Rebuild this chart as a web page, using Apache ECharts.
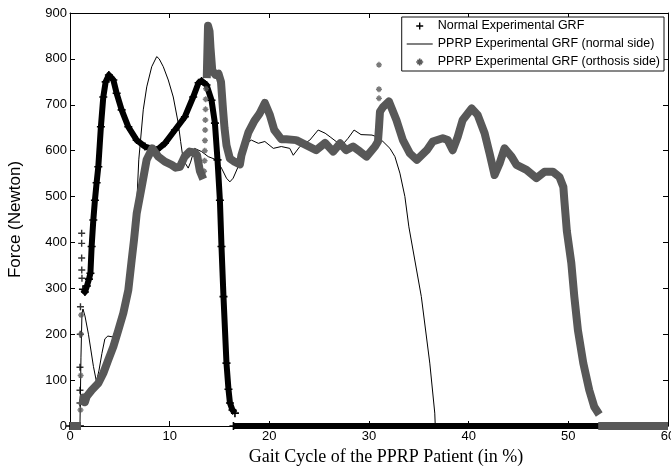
<!DOCTYPE html>
<html><head><meta charset="utf-8">
<script src="https://cdn.jsdelivr.net/npm/echarts@6/dist/echarts.min.js"></script>
<style>html,body{margin:0;padding:0;background:#fff}#c{width:671px;height:467px}</style>
</head><body><div id="c"></div>
<script>
// ---- data ----
const xTicks = [0, 10, 20, 30, 40, 50, 60];
const yTicks = [0, 100, 200, 300, 400, 500, 600, 700, 800, 900];
const seriesNames = [
  'Normal Experimental GRF',
  'PPRP Experimental GRF (normal side)',
  'PPRP Experimental GRF (orthosis side)'
];
const xTitle = 'Gait Cycle of the PPRP Patient (in %)';
const yTitle = 'Force (Newton)';

// Normal Experimental GRF ([gait %, force]); null marks a gap
const normalGRF = [
  [0,0],[1.0,0],[1.0,null],
  [1.3,298],[1.5,292],[1.7,305],[1.9,320],[2.05,333],[2.17,391],[2.34,449],[2.5,492],[2.67,530],
  [2.84,565],[3.1,652],[3.34,717],[3.58,750],[3.9,765],[4.35,754],[4.68,725],[5.18,689],
  [5.85,652],[6.69,623],[7.52,609],[8.69,601],[9.52,616],[10.53,645],[11.53,674],[12.36,717],
  [12.9,748],[13.2,752],[13.7,743],[14.2,710],[14.54,660],[14.8,580],[15.04,492],[15.2,391],
  [15.4,282],[15.7,137],[15.9,80],[16.05,50],[16.3,35],[16.55,28],[16.55,null],
  [16.4,0],[53.2,0]
];
const normalGRFSparse = [
  [1.0,50],[1.0,78],[1.0,128],[1.03,200],[1.05,260],
  [1.17,420],[1.17,398],[1.17,366],[1.18,340],[1.2,322]
];
// PPRP Experimental GRF (normal side)
const normalSide = [
  [0,0],[1.0,0],[1.1,150],[1.2,245],[1.3,255],[1.5,240],[1.85,200],[2.35,130],[2.65,97],
  [2.9,120],[3.2,158],[3.5,190],[3.8,196],[4.3,194],[4.85,224],[5.5,267],[6.2,335],[6.4,400],
  [6.7,485],[6.9,580],[7.35,689],[7.7,739],[8.2,783],[8.7,805],[8.95,800],[9.36,783],
  [9.86,754],[10.36,717],[10.86,660],[11.1,620],[11.36,580],[11.86,562],[12.1,575],[12.5,605],
  [13.2,598],[13.87,587],[14.7,580],[15.2,562],[15.7,540],[16.04,532],[16.37,540],[16.87,565],
  [17.2,594],[17.7,616],[18.2,623],[18.9,616],[19.55,620],[20.4,605],[21.2,609],[22.05,605],
  [22.4,590],[23.06,609],[24.06,623],[24.9,645],[25.6,638],[26.1,630],[26.7,620],[27.3,612],
  [27.9,627],[28.5,645],[29.2,635],[30.3,634],[30.8,630],[31.4,620],[32.1,605],[32.6,587],
  [33.1,551],[33.6,500],[34.0,434],[35.25,282],[36.1,137],[36.6,28],[36.65,0],[53,0]
];
// PPRP Experimental GRF (orthosis side)
const orthosisSide = [
  [0,0],[1.1,0],[1.1,null],
  [1.25,45],[1.35,62],[1.5,52],[1.67,64],[2.17,78],[2.84,93],[3.34,115],[3.84,144],[4.35,173],
  [4.85,209],[5.35,246],[5.85,296],[6.19,362],[6.42,405],[6.69,463],[7.19,521],[7.69,580],
  [8.26,605],[8.86,587],[9.52,576],[10.2,569],[10.6,563],[11.03,565],[11.5,587],[12.0,598],
  [12.5,596],[12.75,590],[13.03,556],[13.37,538],[13.37,null],
  [13.72,758],[13.85,872],[14.0,860],[14.1,823],[14.27,775],[14.6,765],[14.9,768],[15.15,750],
  [15.35,690],[15.5,650],[15.7,612],[16.04,583],[16.5,576],[17.05,570],[17.2,590],[17.9,640],
  [18.5,665],[19.0,680],[19.55,704],[20.05,678],[20.5,645],[21.2,625],[21.7,625],[22.7,623],
  [23.7,612],[24.7,601],[25.6,617],[26.4,598],[27.1,616],[27.7,601],[28.4,609],[29.1,598],
  [29.75,587],[30.6,609],[30.9,620],[31.0,650],[31.1,685],[31.4,695],[32.0,707],[32.75,667],
  [33.4,623],[34.1,594],[34.8,580],[35.8,601],[36.4,620],[37.4,627],[37.9,623],[38.4,601],
  [38.9,630],[39.4,667],[40.3,692],[40.9,678],[41.6,638],[42.1,594],[42.6,547],[43.1,572],
  [43.6,605],[44.3,587],[44.8,569],[45.8,558],[46.8,540],[47.6,554],[48.45,554],[49.1,543],
  [49.5,521],[49.6,492],[49.85,425],[50.3,355],[50.6,282],[50.96,209],[51.5,137],[52.1,78],
  [52.6,42],[53.1,25],[53.1,null],
  [53.0,0],[60,0]
];
const orthosisSparse = [
  [1.05,35],[1.07,110],[1.1,200],[1.12,242],
  [13.45,555],[13.5,578],[13.52,600],[13.54,622],[13.56,645],[13.58,667],[13.6,690],[13.62,712],[13.65,735],
  [31.0,787],[31.0,734],[31.0,714]
];

// ---- styling ----
const CROSS = 'path://M4,0H6V4H10V6H6V10H4V6H0V4H4Z';
const STAR = 'path://M3.8,0H6.2V10H3.8Z M0,3.8H10V6.2H0Z M0.9,2.6L2.6,0.9L9.1,7.4L7.4,9.1Z M7.4,0.9L9.1,2.6L2.6,9.1L0.9,7.4Z';
const LINEICON = 'path://M0,0H26V1H0Z';
const BLACK = '#000000';
const GRAY = '#585858';
const FONT = 'Liberation Sans';

const chart = echarts.init(document.getElementById('c'), null, {renderer: 'canvas'});
const tickInside = {show: true, inside: true, length: 5, lineStyle: {color: BLACK, width: 1}};
const axisLine = {show: true, onZero: false, lineStyle: {color: BLACK, width: 1}};
const xRange = {min: xTicks[0], max: xTicks[xTicks.length - 1], interval: xTicks[1] - xTicks[0]};
const yRange = {min: yTicks[0], max: yTicks[yTicks.length - 1], interval: yTicks[1] - yTicks[0]};

chart.setOption({
  animation: false,
  backgroundColor: '#ffffff',
  grid: {left: 70, right: 3, top: 13, bottom: 41, containLabel: false, outerBoundsMode: 'none'},
  xAxis: [
    Object.assign({type: 'value', position: 'bottom', axisLine, axisTick: tickInside, splitLine: {show: false},
      axisLabel: {color: BLACK, fontFamily: FONT, fontSize: 13, margin: 4, showMaxLabel: true, showMinLabel: true},
      name: xTitle, nameLocation: 'middle', nameGap: 15,
      nameTextStyle: {fontFamily: 'Liberation Serif', fontSize: 18, color: BLACK, padding: [0, 0, 0, 34]}}, xRange),
    Object.assign({type: 'value', position: 'top', axisLine, axisTick: tickInside, splitLine: {show: false},
      axisLabel: {show: false}}, xRange)
  ],
  yAxis: [
    Object.assign({type: 'value', position: 'left', axisLine, axisTick: tickInside, splitLine: {show: false},
      axisLabel: {color: BLACK, fontFamily: FONT, fontSize: 13, margin: 3},
      name: yTitle, nameLocation: 'middle', nameGap: 46,
      nameTextStyle: {fontFamily: FONT, fontSize: 17, color: BLACK}}, yRange),
    Object.assign({type: 'value', position: 'right', axisLine, axisTick: tickInside, splitLine: {show: false},
      axisLabel: {show: false}}, yRange)
  ],
  legend: {
    orient: 'vertical', right: 7, top: 17, itemWidth: 26, itemHeight: 7, itemGap: 4,
    padding: [2, 4, 2, 5], backgroundColor: '#ffffff', borderColor: '#111', borderWidth: 1, borderRadius: 0,
    selectedMode: false, symbolKeepAspect: true, itemStyle: {borderWidth: 0},
    textStyle: {fontFamily: FONT, fontSize: 12.5, color: BLACK, lineHeight: 14},
    data: [
      {name: seriesNames[0], icon: CROSS},
      {name: seriesNames[1], icon: LINEICON},
      {name: seriesNames[2], icon: STAR}
    ]
  },
  series: [
    {name: seriesNames[0], type: 'line', data: normalGRF, clip: false, connectNulls: false,
      symbol: CROSS, symbolSize: 8, showSymbol: true, color: BLACK,
      itemStyle: {color: BLACK, borderWidth: 0},
      lineStyle: {color: BLACK, width: 6, join: 'round', cap: 'butt'}, z: 2},
    {name: seriesNames[0], type: 'scatter', data: normalGRFSparse, clip: false,
      symbol: CROSS, symbolSize: 7, itemStyle: {color: BLACK, borderWidth: 0}, z: 2},
    {name: seriesNames[1], type: 'line', data: normalSide, clip: false, showSymbol: false, color: BLACK,
      itemStyle: {color: BLACK, borderWidth: 0},
      lineStyle: {color: BLACK, width: 1, join: 'round'}, z: 3},
    {name: seriesNames[2], type: 'line', data: orthosisSide, clip: false, connectNulls: false,
      showSymbol: false, color: GRAY, itemStyle: {color: GRAY, borderWidth: 0},
      lineStyle: {color: GRAY, width: 8, join: 'round', cap: 'butt'}, z: 4},
    {name: seriesNames[2], type: 'scatter', data: orthosisSparse, clip: false,
      symbol: STAR, symbolSize: 6, itemStyle: {color: GRAY, borderWidth: 0}, z: 4}
  ]
});
</script>
</body></html>
